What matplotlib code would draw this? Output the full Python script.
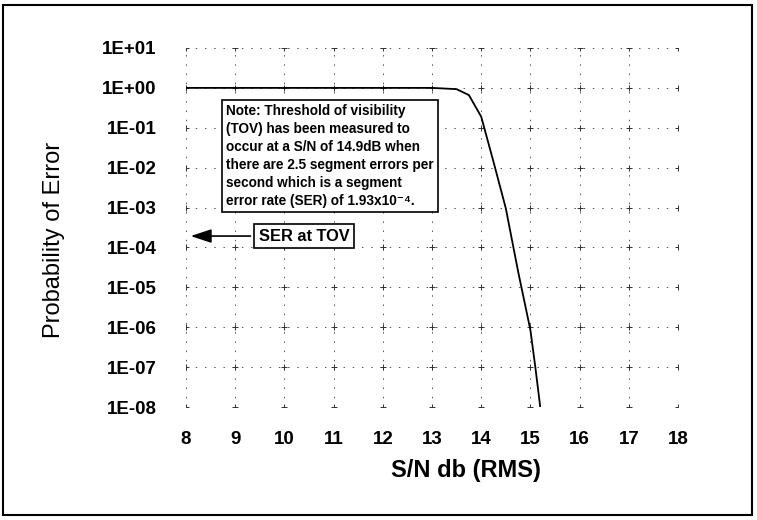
import numpy as np
import matplotlib.pyplot as plt
from matplotlib.patches import Rectangle

plt.rcParams['font.family'] = ['Liberation Sans', 'DejaVu Sans']

# S/N (dB RMS) vs probability of (segment) error
sn_db = [8.0, 13.0, 13.5, 13.75, 14.0, 14.25, 14.5, 14.75, 15.0, 15.1, 15.2]
p_err = [1.0, 1.0, 0.93, 0.66, 0.19, 1.4e-2, 9.6e-4, 2.5e-5, 8.5e-7, 1.0e-7, 1.0e-8]

x_ticks = list(range(8, 19))
y_exps = list(range(1, -9, -1))
y_labels = ['1E+01', '1E+00', '1E-01', '1E-02', '1E-03', '1E-04',
            '1E-05', '1E-06', '1E-07', '1E-08']

ser_tov = 1.93e-4
note = ("Note: Threshold of visibility\n"
        "(TOV) has been measured to\n"
        "occur at a S/N of 14.9dB when\n"
        "there are 2.5 segment errors per\n"
        "second which is a segment\n"
        "error rate (SER) of 1.93x10\u207b\u2074.")

W, H = 757, 520
fig = plt.figure(figsize=(W / 100, H / 100), dpi=100)
ax = fig.add_axes([186 / W, 1 - 407 / H, (678 - 186) / W, (407 - 48) / H])

ax.set_yscale('log')
ax.set_xlim(8, 18)
ax.set_ylim(1e-8, 1e1)
y_ticks = [10.0 ** e for e in y_exps]
ax.set_xticks(x_ticks)
ax.set_yticks(y_ticks)
ax.set_yticklabels(y_labels)
ax.minorticks_off()
ax.tick_params(length=0, labelsize=13.5)
ax.tick_params(axis='x', pad=17)
ax.tick_params(axis='y', pad=21)
for lab in ax.get_xticklabels() + ax.get_yticklabels():
    lab.set_fontweight('bold')
for s in ax.spines.values():
    s.set_visible(False)

# sparse dashed grid with little crosses at the intersections
ax.grid(True, color='#555555', lw=0.7, linestyle=(0, (1.5, 8)))
gx, gy = np.meshgrid(x_ticks, y_ticks)
ax.scatter(gx.ravel(), gy.ravel(), marker='+', s=14, color='#333333', lw=0.7, zorder=2)

ax.plot(sn_db, p_err, color='black', lw=1.3, zorder=3)

ax.text(8.81, 0.40, note, ha='left', va='top', fontsize=9.8, fontweight='bold',
        linespacing=1.37, zorder=4,
        bbox=dict(boxstyle='square,pad=0.3', fc='white', ec='black', lw=1.2))

ax.annotate('SER at TOV', xy=(8.04, ser_tov), xytext=(10.4, ser_tov),
            ha='center', va='center', fontsize=11.8, fontweight='bold', zorder=4,
            bbox=dict(boxstyle='square,pad=0.3', fc='white', ec='black', lw=1.2),
            arrowprops=dict(arrowstyle='-|>,head_length=0.9,head_width=0.3',
                            mutation_scale=14, color='black', lw=1.2))

fig.text(466 / W, 1 - 471 / H, 'S/N db (RMS)', ha='center', va='center',
         fontsize=17, fontweight='bold')
fig.text(54 / W, 1 - 240 / H, 'Probability of Error', ha='center', va='center',
         rotation=90, fontsize=17)

# outer frame of the figure
fig.patches.append(Rectangle((3 / W, 5 / H), 749 / W, 510 / H, transform=fig.transFigure,
                             fill=False, ec='black', lw=1.5))

fig.savefig('out.png', dpi=100)
